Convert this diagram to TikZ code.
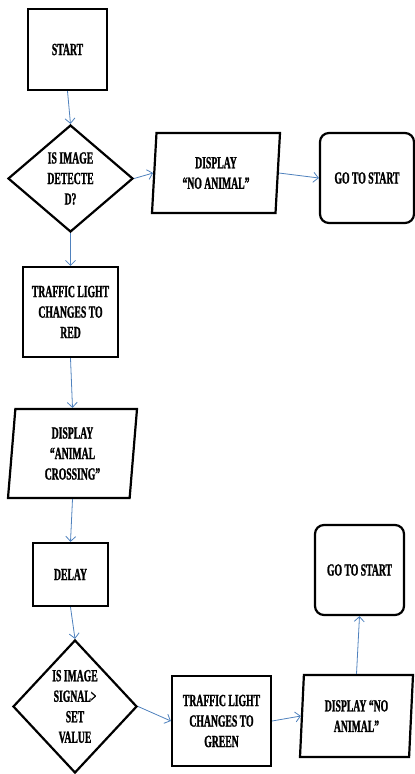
\documentclass[tikz,border=0pt]{standalone}
\usepackage{fontspec}
\setmainfont{Liberation Serif}[FakeStretch=0.57,BoldFeatures={FakeBold=1.2}]
\usetikzlibrary{arrows.meta,shapes.geometric}
\definecolor{flowBlue}{HTML}{4F81BD}

\begin{document}
\begin{tikzpicture}[x=1pt,y=1pt,>={Straight Barb[length=5pt,width=10pt]},
  font=\bfseries\fontsize{17}{20.5}\selectfont,
  stepbox/.style={draw=black,line width=2.2pt,align=center,inner sep=0pt},
  decision/.style={diamond,draw=black,line width=2.2pt,align=center,inner sep=0pt},
  iobox/.style={trapezium,trapezium left angle=#1,trapezium right angle=180-#1,
    trapezium stretches body,draw=black,line width=2.2pt,align=center,inner sep=0pt},
  endbox/.style={draw=black,rounded corners=9pt,line width=2.2pt,align=center,inner sep=0pt},
  flow/.style={->,draw=flowBlue,line width=0.8pt}
]
  \useasboundingbox (0,0) rectangle (415,-774);

  % main column
  \node[stepbox,minimum width=79pt,minimum height=81pt] (start) at (67.5,-49.5) {START};
  \node[decision,minimum width=125pt,minimum height=107pt] (detect) at (70.5,-178.5)
    {IS IMAGE\\DETECTE\\D?};
  \node[stepbox,minimum width=95pt,minimum height=90pt] (red) at (70.5,-312)
    {TRAFFIC LIGHT\\CHANGES TO\\RED};
  \node[iobox=82,minimum width=129pt,minimum height=89pt] (crossing) at (72.5,-453.5)
    {DISPLAY\\“ANIMAL\\CROSSING”};
  \node[stepbox,minimum width=75pt,minimum height=63pt] (delay) at (70.5,-574.5) {DELAY};
  \node[decision,minimum width=124pt,minimum height=133pt] (signal) at (75,-706.5)
    {IS IMAGE\\SIGNAL>\\SET\\VALUE};

  % no animal branch
  \node[iobox=82,minimum width=128pt,minimum height=80pt] (noanimal) at (216,-173)
    {DISPLAY\\“NO ANIMAL”};
  \node[endbox,minimum width=94pt,minimum height=90pt] (restart) at (367,-178) {GO TO START};

  % bottom branch
  \node[stepbox,minimum width=99pt,minimum height=90pt] (green) at (221.5,-721)
    {TRAFFIC LIGHT\\CHANGES TO\\GREEN};
  \node[iobox=83,minimum width=113pt,minimum height=82pt] (clear) at (356.5,-716)
    {DISPLAY “NO\\ANIMAL”};
  \node[endbox,minimum width=89pt,minimum height=90pt] (back) at (359.5,-570) {GO TO START};

  \draw[flow] (start.south) -- (detect.north);
  \draw[flow] (detect.east) -- (noanimal.west);
  \draw[flow] (noanimal.east) -- (restart.west);
  \draw[flow] (detect.south) -- (red.north);
  \draw[flow] (red.south) -- (crossing.north);
  \draw[flow] (crossing.south) -- (delay.north);
  \draw[flow] (delay.south) -- (signal.north);
  \draw[flow] (signal.east) -- (green.west);
  \draw[flow] (green.east) -- (clear.west);
  \draw[flow] (clear.north) -- (back.south);
\end{tikzpicture}
\end{document}
